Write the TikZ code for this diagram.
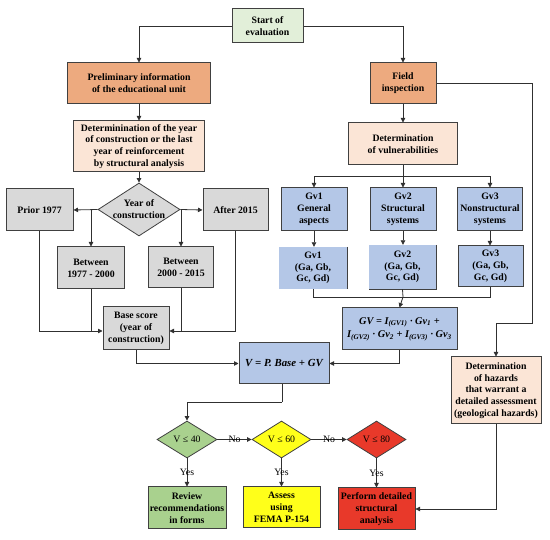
\documentclass[tikz,border=0pt]{standalone}
\usepackage{fontspec}
\setmainfont{Liberation Serif}
\usetikzlibrary{arrows.meta,shapes.geometric}
\definecolor{cstart}{HTML}{E2EFD9}
\definecolor{corange}{HTML}{EDAA7F}
\definecolor{cpeach}{HTML}{FBE5D6}
\definecolor{cgray}{HTML}{D9D9D9}
\definecolor{cblue}{HTML}{B4C7E7}
\definecolor{cgreen}{HTML}{A9D18E}
\definecolor{cyellow}{HTML}{FFFF1A}
\definecolor{cred}{HTML}{E8392A}
\definecolor{cline}{HTML}{303030}
\definecolor{cborder}{HTML}{404040}
\newcommand{\sbs}[1]{\textsubscript{#1}}
\begin{document}
\begin{tikzpicture}[x=1pt,y=-1pt,
  box/.style={rectangle, draw=cborder, line width=1pt, inner sep=1pt, align=center,
    font=\fontsize{9.8}{11.8}\selectfont\bfseries},
  nobox/.style={rectangle, inner sep=1pt, align=center,
    font=\fontsize{9.8}{11.8}\selectfont\bfseries},
  dia/.style={diamond, draw=cborder, line width=0.8pt, inner sep=0pt},
  dtext/.style={font=\fontsize{9.8}{11.8}\selectfont},
  lbl/.style={font=\fontsize{9.8}{11.8}\selectfont, inner sep=0pt},
  conn/.style={draw=cline, line width=0.8pt},
  arr/.style={conn, -{Triangle[length=4.5pt,width=4.5pt]}},
  wh/.style n args={2}{minimum width=#1pt, minimum height=#2pt}
]
\useasboundingbox (0,0) rectangle (550,540);

% top
\node[box, fill=cstart, wh={71}{34}] (start) at (267.5,26) {Start of\\evaluation};
\node[box, fill=corange, wh={143}{41}] (prelim) at (139,83.5) {Preliminary information\\of the educational unit};
\node[box, fill=corange, wh={66}{41}] (field) at (403,83.5) {Field\\inspection};
\node[box, fill=cpeach, wh={131}{51}] (detyear) at (139,146.5) {Determinination of the year\\of construction or the last\\year of reinforcement\\by structural analysis};
\node[box, fill=cpeach, wh={109}{42}] (detvul) at (403,144) {Determination\\of vulnerabilities};

% year branch
\node[dia, fill=cgray, minimum width=82pt, minimum height=53pt] (dy) at (139,209.5) {};
\node[nobox] at (dy) {Year of\\construction};
\node[box, fill=cgray, wh={67}{42}] (prior) at (39.5,210) {Prior 1977};
\node[box, fill=cgray, wh={65}{42}] (after) at (235.5,210) {After 2015};
\node[box, fill=cgray, wh={67}{42}] (b1977) at (91,268) {Between\\1977 - 2000};
\node[box, fill=cgray, wh={65}{41}] (b2000) at (181,267.5) {Between\\2000 - 2015};
\node[box, fill=cgray, wh={66}{43}] (base) at (136,328.5) {Base score\\(year of\\construction)};

% vulnerabilities
\node[box, fill=cblue, wh={66}{43}] (gv1) at (314,209.5) {Gv1\\General\\aspects};
\node[box, fill=cblue, wh={66}{43}] (gv2) at (403,209.5) {Gv2\\Structural\\systems};
\node[box, fill=cblue, wh={65}{43}] (gv3) at (490,209.5) {Gv3\\Nonstructural\\systems};
\node[nobox, fill=cblue, wh={68}{42}] (gv1b) at (313,268) {Gv1\\(Ga, Gb,\\Gc, Gd)};
\node[nobox, fill=cblue, wh={67}{44}] (gv2b) at (402.5,267) {Gv2\\(Ga, Gb,\\Gc, Gd)};
\node[box, fill=cblue, wh={65}{41}] (gv3b) at (490.5,266.5) {Gv3\\(Ga, Gb,\\Gc, Gd)};
\draw[draw=cborder, line width=1pt] (gv1b.north east) -- (gv1b.south east);
\draw[draw=cborder, line width=1pt] (gv2b.north east) -- (gv2b.south east) -- (gv2b.south west);
\node[box, fill=cblue, wh={115}{42}, font=\fontsize{10.3}{13.5}\selectfont\bfseries\itshape] (gvf) at (399.5,329)
  {GV = I\sbs{(GV1)} · Gv\sbs{1} +\\I\sbs{(GV2)} · Gv\sbs{2} + I\sbs{(GV3)} · Gv\sbs{3}};
\node[box, fill=cblue, wh={90}{41}, font=\fontsize{10.8}{13}\selectfont\bfseries\itshape] (V) at (284,363.5) {V = P. Base + GV};

\node[box, fill=cpeach, wh={90}{67}] (haz) at (496,390.5) {Determination\\of hazards\\that warrant a\\detailed assessment\\(geological hazards)};

% decisions
\node[dia, fill=cgreen, minimum width=60pt, minimum height=37pt] (d40) at (187,439.5) {};
\node[dtext] at (d40) {V ≤ 40};
\node[dia, fill=cyellow, minimum width=59pt, minimum height=37pt] (d60) at (281.5,439.5) {};
\node[dtext] at (d60) {V ≤ 60};
\node[dia, fill=cred, minimum width=59pt, minimum height=37pt] (d80) at (376.5,439.5) {};
\node[dtext] at (d80) {V ≤ 80};

\node[box, fill=cgreen, wh={78}{42}] (review) at (187,508) {Review\\recommendations\\in forms};
\node[box, fill=cyellow, wh={77}{41}] (assess) at (281.5,507.5) {Assess\\using\\FEMA P-154};
\node[box, fill=cred, wh={77}{42}] (perform) at (376.5,509) {Perform detailed\\structural\\analysis};

% coordinates
\coordinate (fr) at (532,323);
\coordinate (vs) at (403,176);
\coordinate (gm) at (403,297);
\coordinate (yb) at (139,331);
\coordinate (vb) at (282,402);

% connectors
\draw[arr] (start.west) -| (prelim.north);
\draw[arr] (start.east) -| (field.north);
\draw[arr] (prelim.south) -- (detyear.north);
\draw[arr] (detyear.south) -- (dy.north);
\draw[arr] (dy.west) -- (prior.east);
\draw[arr] (dy.east) -- (after.west);
\draw[arr] (b1977.north |- dy.west) -- (b1977.north);
\draw[arr] (b2000.north |- dy.east) -- (b2000.north);
\draw[arr] (prior.south) |- (base.west |- yb);
\draw[conn] (b1977.south) -- (b1977.south |- yb);
\draw[arr] (after.south) |- (base.east |- yb);
\draw[conn] (b2000.south) -- (b2000.south |- yb);
\draw[arr] (base.south) |- (V.west);

\draw[arr] (field.south) -- (detvul.north);
\draw[conn] (detvul.south) -- (vs);
\draw[arr] (vs) -| (gv1.north);
\draw[arr] (vs) -| (gv3.north);
\draw[arr] (vs) -- (gv2.north);
\draw[arr] (gv1.south) -- (gv1.south |- gv1b.north);
\draw[arr] (gv2.south) -- (gv2.south |- gv2b.north);
\draw[arr] (gv3.south) -- (gv3.south |- gv3b.north);
\draw[conn] (gv1b.south) |- (gm);
\draw[conn] (gv3b.south) |- (gm);
\draw[conn] (gv2b.south) -- (gm);
\draw[arr] (gm) -- (gvf.north);
\draw[arr] (gvf.south) |- (V.east);

\draw[arr] (field.east) -| (fr) -| (haz.north);
\draw[arr] (haz.south) |- (perform.east);

\draw[conn] (V.south -| vb) -- (vb);
\draw[arr] (vb) -| (d40.north);
\draw[arr] (d40.east) -- node[lbl]{No} (d60.west);
\draw[arr] (d60.east) -- node[lbl]{No} (d80.west);
\draw[arr] (d40.south) -- node[lbl]{Yes} (review.north);
\draw[arr] (d60.south) -- node[lbl]{Yes} (assess.north);
\draw[arr] (d80.south) -- node[lbl]{Yes} (perform.north);
\end{tikzpicture}
\end{document}
